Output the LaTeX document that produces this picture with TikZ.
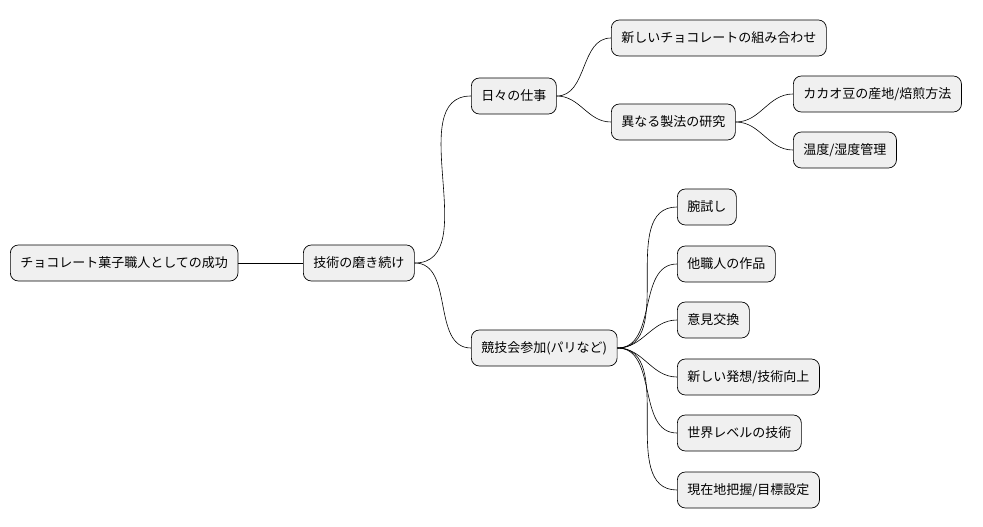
\documentclass[tikz,border=0pt]{standalone}
\usepackage{fontspec}
\setmainfont{Noto Sans CJK JP}
\begin{document}
\begin{tikzpicture}[x=1pt,y=-1pt,
  box/.style={draw=black,line width=0.7pt,fill=black!6,rounded corners=8pt,minimum height=36pt,inner xsep=10pt,anchor=west,font=\fontsize{13}{15}\selectfont},
  link/.style={draw=black,line width=0.6pt}]
\useasboundingbox (0,0) rectangle (983,527);
\node[box] (r) at (10,263) {チョコレート菓子職人としての成功};
\node[box] (a) at (303,263) {技術の磨き続け};
\node[box] (b) at (471,96) {日々の仕事};
\node[box] (c) at (471,348) {競技会参加(パリなど)};
\node[box] (b1) at (611,38) {新しいチョコレートの組み合わせ};
\node[box] (b2) at (611,122) {異なる製法の研究};
\node[box] (b21) at (793,94) {カカオ豆の産地/焙煎方法};
\node[box] (b22) at (793,150) {温度/湿度管理};
\node[box] (c1) at (677,207) {腕試し};
\node[box] (c2) at (677,264) {他職人の作品};
\node[box] (c3) at (677,320) {意見交換};
\node[box] (c4) at (677,377) {新しい発想/技術向上};
\node[box] (c5) at (677,433) {世界レベルの技術};
\node[box] (c6) at (677,490) {現在地把握/目標設定};
\draw[link] (r.east) -- (a.west);
\foreach \p/\c in {a/b,a/c,b/b1,b/b2,b2/b21,b2/b22,c/c1,c/c2,c/c3,c/c4,c/c5,c/c6}
  \draw[link] (\p.east) to[out=0,in=180] (\c.west);
\end{tikzpicture}
\end{document}
